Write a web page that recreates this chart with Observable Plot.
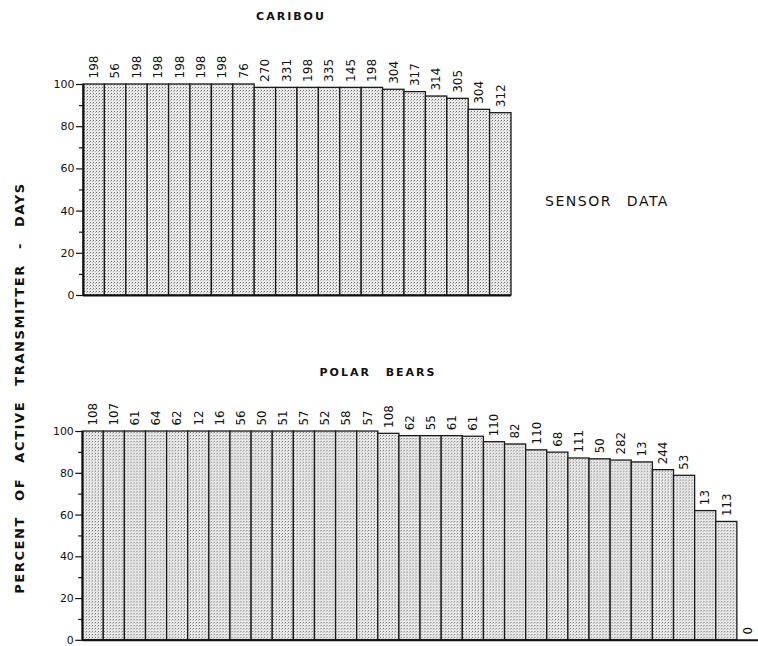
<!DOCTYPE html>
<html>
<head>
<meta charset="utf-8">
<script src="https://cdn.jsdelivr.net/npm/d3@7"></script>
<script src="https://cdn.jsdelivr.net/npm/@observablehq/plot@0.6"></script>
<style>
  body { margin: 0; background: #fff; }
  #wrap { position: relative; width: 758px; height: 646px; overflow: hidden; background: #fff; font-family: "DejaVu Sans", sans-serif; color: #111; }
  .abs { position: absolute; }
  .ttl { font-weight: bold; font-size: 11px; letter-spacing: 2px; word-spacing: 9px; white-space: nowrap; transform: translate(-50%, -50%); }
  #ylab { font-weight: bold; font-size: 13px; letter-spacing: 1.6px; word-spacing: 9px; white-space: nowrap; transform: translate(-50%, -50%) rotate(-90deg); }
  #sensor { font-size: 14px; letter-spacing: 1.5px; word-spacing: 9px; white-space: nowrap; transform: translate(-50%, -50%); }
</style>
</head>
<body>
<svg width="0" height="0" style="position:absolute">
  <defs>
    <pattern id="stip" width="3" height="3" patternUnits="userSpaceOnUse">
      <rect width="3" height="3" fill="#ebebeb"></rect>
      <rect x="0" y="0" width="1" height="1" fill="#6e6e6e"></rect>
      <rect x="2" y="1" width="1" height="1" fill="#b5b5b5"></rect>
    </pattern>
  </defs>
</svg>
<div id="wrap">
  <div id="cari" class="abs" style="left:0;top:0"></div>
  <div id="polar" class="abs" style="left:0;top:340px"></div>
  <div class="abs ttl" style="left:291px;top:16px">CARIBOU</div>
  <div class="abs ttl" style="left:378px;top:372px">POLAR BEARS</div>
  <div id="sensor" class="abs" style="left:607px;top:201px">SENSOR DATA</div>
  <div id="ylab" class="abs" style="left:19px;top:388px">PERCENT OF ACTIVE TRANSMITTER - DAYS</div>
</div>
<script>
// Caribou: transmitter counts (labels) and percent of active transmitter-days
const caribouN = [198, 56, 198, 198, 198, 198, 198, 76, 270, 331, 198, 335, 145, 198, 304, 317, 314, 305, 304, 312];
const caribouPct = [100, 100, 100, 100, 100, 100, 100, 100, 98.4, 98.4, 98.4, 98.4, 98.4, 98.4, 97.5, 96.4, 94.3, 93.2, 88.0, 86.4];

// Polar bears
const polarN = [108, 107, 61, 64, 62, 12, 16, 56, 50, 51, 57, 52, 58, 57, 108, 62, 55, 61, 61, 110, 82, 110, 68, 111, 50, 282, 13, 244, 53, 13, 113, 0];
const polarPct = [100, 100, 100, 100, 100, 100, 100, 100, 100, 100, 100, 100, 100, 100, 98.9, 97.8, 97.8, 97.8, 97.5, 94.9, 93.8, 91.0, 89.9, 87.1, 86.7, 86.1, 85.2, 81.5, 78.8, 61.9, 56.7, 0];

const majorTicks = [0, 20, 40, 60, 80, 100];
const minorTicks = [10, 30, 50, 70, 90];

function panel(nArr, pArr, opts) {
  const data = nArr.map((n, i) => ({i, n, v: pArr[i]}));
  return Plot.plot({
    width: opts.width,
    height: opts.height,
    marginLeft: 83,
    marginRight: opts.marginRight,
    marginTop: opts.marginTop,
    marginBottom: opts.marginBottom,
    style: {overflow: "visible", fontFamily: "DejaVu Sans, sans-serif", background: "transparent", color: "#111"},
    x: {domain: [0, nArr.length], axis: null},
    y: {domain: [0, 100], axis: null},
    marks: [
      Plot.rectY(data, {x1: "i", x2: d => d.i + 1, y: "v", fill: "url(#stip)", stroke: "#1a1a1a", strokeWidth: 1.3}),
      Plot.ruleY([0], {stroke: "#111", strokeWidth: 2}),
      Plot.ruleX([0], {y1: 0, y2: 100, stroke: "#111", strokeWidth: 2}),
      Plot.axisY({ticks: majorTicks, tickSize: 7, tickPadding: 2, fontSize: 11, label: null, stroke: "#111", strokeWidth: 1.2}),
      Plot.axisY({ticks: minorTicks, tickSize: 4, text: null, label: null, stroke: "#111", strokeWidth: 1.2}),
      Plot.text(data, {x: d => d.i + 0.5, y: "v", text: "n", rotate: -90, textAnchor: "start", lineAnchor: "middle", dy: -6, fontSize: 12, fill: "#111"})
    ]
  });
}

document.getElementById("cari").appendChild(panel(caribouN, caribouPct, {width: 758, height: 300, marginRight: 247, marginTop: 84, marginBottom: 5}));
document.getElementById("polar").appendChild(panel(polarN, polarPct, {width: 766, height: 306, marginRight: 0, marginTop: 92, marginBottom: 3}));
</script>
</body>
</html>
